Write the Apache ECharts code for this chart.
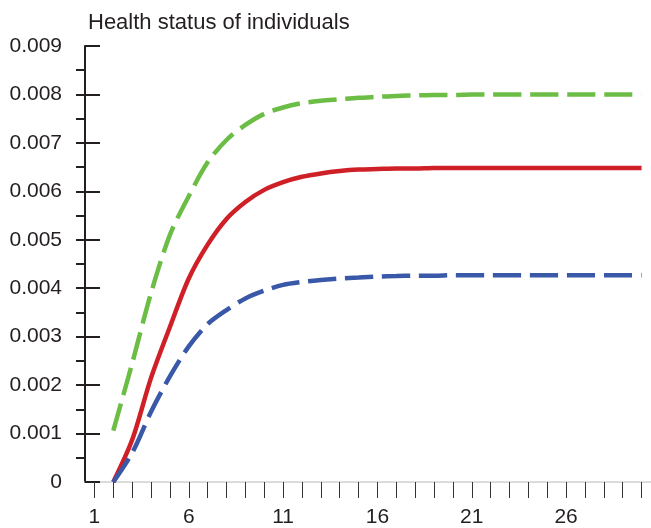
<!DOCTYPE html>
<html><head><meta charset="utf-8">
<script src="https://cdn.jsdelivr.net/npm/echarts@6/dist/echarts.min.js"></script>
<style>html,body{margin:0;padding:0;background:#fff}#c{width:651px;height:528px}</style>
</head><body><div id="c"></div>
<script>
const categories = ['1','2','3','4','5','6','7','8','9','10','11','12','13','14','15','16','17','18','19','20','21','22','23','24','25','26','27','28','29','30'];
const redSolid = [null,0,0.00087,0.00215,0.0032,0.0042,0.0049,0.00543,0.00578,0.00603,0.00619,0.0063,0.00637,0.00642,0.00645,0.00646,0.00647,0.00647,0.00648,0.00648,0.00648,0.00648,0.00648,0.00648,0.00648,0.00648,0.00648,0.00648,0.00648,0.00648];
const greenDashed = [null,0.00106,0.00245,0.0039,0.0051,0.0059,0.0066,0.00706,0.00737,0.0076,0.00773,0.00782,0.00787,0.0079,0.00793,0.00795,0.00797,0.00798,0.00799,0.00799,0.008,0.008,0.008,0.008,0.008,0.008,0.008,0.008,0.008,0.008];
const blueDashed = [null,0,0.0006,0.00145,0.00218,0.0028,0.00326,0.00355,0.00379,0.00395,0.00407,0.00413,0.00417,0.0042,0.00422,0.00424,0.00425,0.00426,0.00426,0.00427,0.00427,0.00427,0.00427,0.00427,0.00427,0.00427,0.00427,0.00427,0.00427,0.00427];
const yTicks = ['0','0.001','0.002','0.003','0.004','0.005','0.006','0.007','0.008','0.009'];

const chart = echarts.init(document.getElementById('c'));
const font = 'Liberation Sans, Arial, sans-serif';
chart.setOption({
  animation: false,
  title: {text: 'Health status of individuals', left: 83, top: 7,
    textStyle: {fontFamily: font, fontSize: 22, fontWeight: 'normal', color: '#231f20'}},
  grid: [
    {left: 85, top: 46, width: 568, bottom: 46},
    {left: 85, top: 46 + 24.22, width: 568, bottom: 46 + 24.22}
  ],
  xAxis: [
    {type: 'category', data: categories, gridIndex: 0, boundaryGap: true,
     axisLine: {lineStyle: {color: '#d0d0d0', width: 1.5}},
     axisTick: {show: true, alignWithLabel: true, interval: 0, length: 16, lineStyle: {color: '#333', width: 1}},
     axisLabel: {interval: 4, margin: 25, fontFamily: font, fontSize: 21, color: '#231f20'},
     splitLine: {show: false}},
    {type: 'value', gridIndex: 1, show: false}
  ],
  yAxis: [
    {type: 'value', gridIndex: 0, min: 0, max: 0.009, interval: 0.001,
     axisLine: {show: true, lineStyle: {color: '#231f20', width: 2}},
     axisTick: {show: true, inside: true, length: 15, lineStyle: {color: '#231f20', width: 2}},
     axisLabel: {margin: 23, fontFamily: font, fontSize: 21, color: '#231f20',
       formatter: v => yTicks[Math.round(v / 0.001)]},
     splitLine: {show: false}},
    {type: 'value', gridIndex: 1, min: 0.0005, max: 0.0085, interval: 0.0005,
     axisLine: {show: false},
     axisTick: {show: true, inside: false, length: 9, lineStyle: {color: '#231f20', width: 2}},
     axisLabel: {show: false}, splitLine: {show: false}}
  ],
  series: [
    {type: 'line', data: greenDashed, symbol: 'none', smooth: 0.3, xAxisIndex: 0, yAxisIndex: 0,
     lineStyle: {color: '#6cbd45', width: 4.5, type: [28, 9]}},
    {type: 'line', data: redSolid, symbol: 'none', smooth: 0.3, xAxisIndex: 0, yAxisIndex: 0,
     lineStyle: {color: '#cf2027', width: 4.5}},
    {type: 'line', data: blueDashed, symbol: 'none', smooth: 0.3, xAxisIndex: 0, yAxisIndex: 0,
     lineStyle: {color: '#3a58a8', width: 4.5, type: [28, 9]}}
  ]
});
</script></body></html>
